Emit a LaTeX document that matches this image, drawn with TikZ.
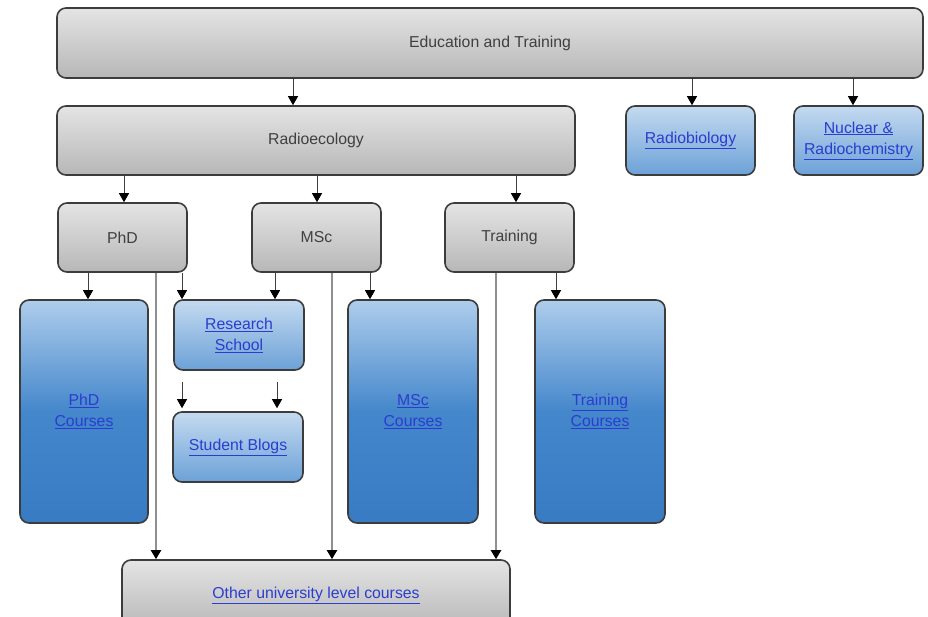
\documentclass[tikz,border=0pt]{standalone}
\usepackage{fontspec}
\setmainfont{Liberation Sans}
\usetikzlibrary{arrows.meta,calc}
\definecolor{bordc}{HTML}{3C3C3C}
\definecolor{gtop}{HTML}{E4E4E4}
\definecolor{gbot}{HTML}{B7B7B7}
\definecolor{gtext}{HTML}{404040}
\definecolor{btop}{HTML}{C4DAF0}
\definecolor{bbot}{HTML}{6CA1D7}
\definecolor{bigtop}{HTML}{AECDEC}
\definecolor{bigmid}{HTML}{4487CB}
\definecolor{bigbot}{HTML}{397BC3}
\definecolor{linkc}{HTML}{2B3DD0}
\definecolor{longc}{HTML}{8F8F8F}
\tikzset{
  basebox/.style={rounded corners=9pt, draw=bordc, line width=1.6pt, inner sep=0pt,
    align=center, font=\fontsize{15.8}{21}\selectfont},
  gbox/.style={basebox, top color=gtop, bottom color=gbot, text=gtext},
  bbox/.style={basebox, top color=btop, bottom color=bbot, text=linkc},
  bigbox/.style={basebox, top color=bigtop, bottom color=bigbot, middle color=bigmid, text=linkc},
  arr/.style={draw=black!75, line width=0.9pt, -{Triangle[width=10pt,length=9pt,fill=black,color=black]}},
  longarr/.style={draw=longc, line width=2pt, -{Triangle[width=10pt,length=9pt,fill=black,color=black]}},
}
\begin{document}
\begin{tikzpicture}[x=1pt,y=-1pt]
\useasboundingbox (0,0) rectangle (928,617);
\fill[white] (0,0) rectangle (928,617);
% nodes
\node[gbox, minimum width=866pt, minimum height=70pt] (et) at (490,43) {Education and Training};
\node[gbox, minimum width=518pt, minimum height=69pt] (re) at (316,140.5) {Radioecology};
\node[bbox, minimum width=129pt, minimum height=69pt] (rb) at (690.5,140.5) {\underline{Radiobiology}};
\node[bbox, minimum width=129pt, minimum height=69pt] (nc) at (858.5,140.5) {\underline{Nuclear \&}\\\underline{Radiochemistry}};
\node[gbox, minimum width=129pt, minimum height=69pt] (phd) at (122.5,237.5) {PhD};
\node[gbox, minimum width=129pt, minimum height=69pt] (msc) at (316.5,237.5) {MSc};
\node[gbox, minimum width=129pt, minimum height=69pt] (tr) at (509.5,237.5) {Training};
\node[bigbox, minimum width=128pt, minimum height=223pt] (phdc) at (84,411.5) {\underline{PhD}\\\underline{Courses}};
\node[bbox, minimum width=130pt, minimum height=70pt] (rs) at (239,335) {\underline{Research}\\\underline{School}};
\node[bbox, minimum width=130pt, minimum height=70pt] (sb) at (238,447) {\underline{Student Blogs}};
\node[bigbox, minimum width=130pt, minimum height=223pt] (mscc) at (413,411.5) {\underline{MSc}\\\underline{Courses}};
\node[bigbox, minimum width=130pt, minimum height=223pt] (trc) at (600,411.5) {\underline{Training}\\\underline{Courses}};
\node[gbox, minimum width=388pt, minimum height=70pt] (ot) at (316,595) {\textcolor{linkc}{\underline{Other university level courses}}};
% column coordinates
\coordinate (x293) at (293,0);
\coordinate (x692) at (692,0);
\coordinate (x853) at (853,0);
\coordinate (x124) at (124,0);
\coordinate (x317) at (317,0);
\coordinate (x516) at (516,0);
\coordinate (x88) at (88,0);
\coordinate (x182) at (182,0);
\coordinate (x275) at (275,0);
\coordinate (x277) at (277,0);
\coordinate (x370) at (370,0);
\coordinate (x556) at (556,0);
\coordinate (x156) at (156,0);
\coordinate (x332) at (332,0);
\coordinate (x496) at (496,0);
% connectors
\draw[arr] (et.south -| x293) -- (re.north -| x293);
\draw[arr] (et.south -| x692) -- (rb.north -| x692);
\draw[arr] (et.south -| x853) -- (nc.north -| x853);
\draw[arr] (re.south -| x124) -- (phd.north -| x124);
\draw[arr] (re.south -| x317) -- (msc.north -| x317);
\draw[arr] (re.south -| x516) -- (tr.north -| x516);
\draw[arr] (phd.south -| x88) -- (phdc.north -| x88);
\draw[arr] (phd.south -| x182) -- (rs.north -| x182);
\draw[arr] (msc.south -| x275) -- (rs.north -| x275);
\draw[arr] (msc.south -| x370) -- (mscc.north -| x370);
\draw[arr] (tr.south -| x556) -- (trc.north -| x556);
\draw[arr] ([yshift=-11pt]rs.south -| x182) -- ([yshift=3pt]sb.north -| x182);
\draw[arr] ([yshift=-11pt]rs.south -| x277) -- ([yshift=3pt]sb.north -| x277);
\draw[longarr] (phd.south -| x156) -- (ot.north -| x156);
\draw[longarr] (msc.south -| x332) -- (ot.north -| x332);
\draw[longarr] (tr.south -| x496) -- (ot.north -| x496);
\end{tikzpicture}
\end{document}
